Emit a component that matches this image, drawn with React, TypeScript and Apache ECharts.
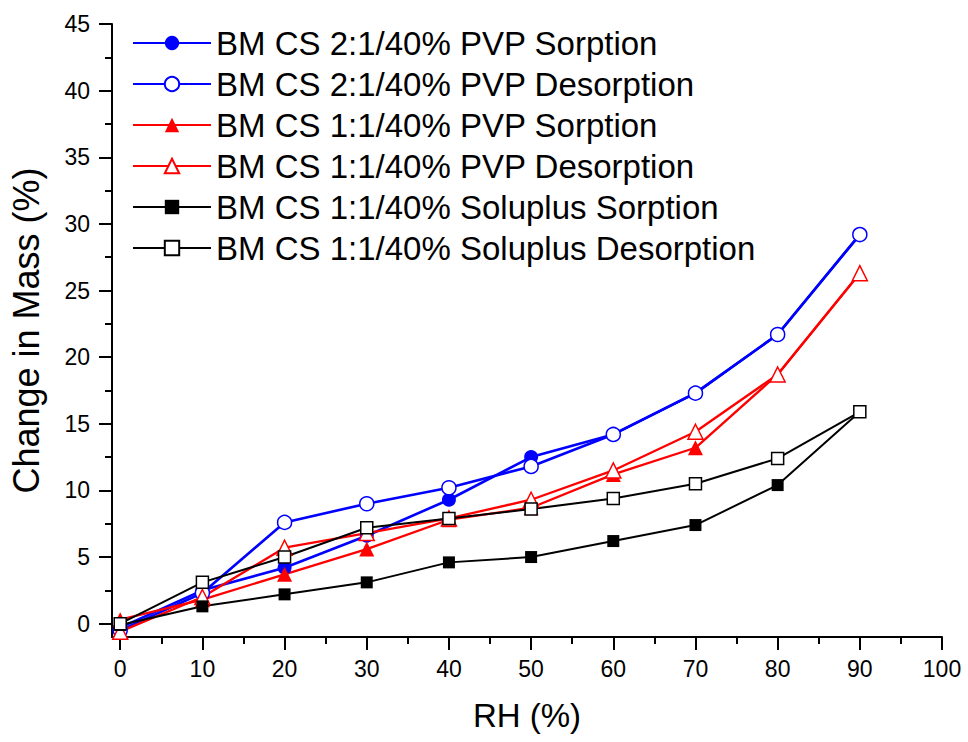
import React, { useEffect, useRef } from "react";
import * as echarts from "echarts";

const rh = [0, 10, 20, 30, 40, 50, 60, 70, 80, 90];
const bm21PvpSorption = [-0.3, 2.5, 4.2, 6.6, 9.3, 12.5, 14.2, 17.3, 21.7, 29.2];
const bm21PvpDesorption = [-0.5, 2.3, 7.6, 9.0, 10.2, 11.8, 14.2, 17.3, 21.7, 29.2];
const bm11PvpSorption = [0.3, 1.8, 3.7, 5.6, 7.8, 8.7, 11.2, 13.2, 18.7, 26.3];
const bm11PvpDesorption = [-0.6, 2.0, 5.7, 6.8, 7.9, 9.3, 11.5, 14.4, 18.7, 26.3];
const bm11SolSorption = [-0.1, 1.3, 2.2, 3.1, 4.6, 5.0, 6.2, 7.4, 10.4, 15.9];
const bm11SolDesorption = [0.0, 3.1, 5.0, 7.2, 7.9, 8.6, 9.4, 10.5, 12.4, 15.9];

const seriesNames = [
  "BM CS 2:1/40% PVP Sorption",
  "BM CS 2:1/40% PVP Desorption",
  "BM CS 1:1/40% PVP Sorption",
  "BM CS 1:1/40% PVP Desorption",
  "BM CS 1:1/40% Soluplus Sorption",
  "BM CS 1:1/40% Soluplus Desorption",
];

const xMajorTicks = [0, 10, 20, 30, 40, 50, 60, 70, 80, 90, 100];
const xMinorTicks = [5, 15, 25, 35, 45, 55, 65, 75, 85, 95];
const yMajorTicks = [0, 5, 10, 15, 20, 25, 30, 35, 40, 45];
const yMinorTicks = [2.5, 7.5, 12.5, 17.5, 22.5, 27.5, 32.5, 37.5, 42.5];

const FONT = "'Liberation Sans', Arial, Helvetica, sans-serif";
const BLUE = "#0000ff";
const RED = "#ff0000";
const BLACK = "#000000";

function pairs(vals: number[]) {
  return rh.map((x, i) => [x, vals[i]]);
}

function makeSeries(
  name: string,
  vals: number[],
  color: string,
  symbol: string,
  size: number,
  filled: boolean,
  lw: number
) {
  return {
    name,
    type: "line",
    data: pairs(vals),
    symbol,
    symbolSize: size,
    showAllSymbol: true,
    clip: false,
    lineStyle: { color, width: lw },
    itemStyle: filled
      ? { color, borderWidth: 0 }
      : { color: "#ffffff", borderColor: color, borderWidth: 1.5 },
    emphasis: { disabled: true },
  };
}

export default function App() {
  const ref = useRef<HTMLDivElement>(null);
  useEffect(() => {
    if (!ref.current) return;
    const chart = echarts.init(ref.current, undefined, { renderer: "svg" });
    const axisLineStyle = { color: BLACK, width: 2 };
    chart.setOption({
      animation: false,
      backgroundColor: "#ffffff",
      grid: { left: 111, right: 26, top: 24, bottom: 105, containLabel: false },
      legend: {
        orient: "vertical",
        left: 132,
        top: 26,
        padding: 0,
        itemWidth: 78,
        itemHeight: 18,
        itemGap: 7,
        data: seriesNames,
        textStyle: { fontFamily: FONT, fontSize: 33, color: "#000", lineHeight: 34 },
        selectedMode: false,
      },
      xAxis: [
        {
          type: "value",
          min: -1,
          max: 100,
          position: "bottom",
          name: "RH (%)",
          nameLocation: "middle",
          nameGap: 62,
          nameTextStyle: { fontFamily: FONT, fontSize: 33, color: "#000" },
          axisLine: { show: true, onZero: false, lineStyle: axisLineStyle },
          axisTick: { show: true, customValues: xMajorTicks, length: 13, lineStyle: { color: BLACK, width: 2 } },
          axisLabel: {
            show: true,
            customValues: xMajorTicks,
            fontFamily: FONT,
            fontSize: 23,
            color: "#000",
            margin: 20,
          },
          splitLine: { show: false },
        },
        {
          type: "value",
          min: -1,
          max: 100,
          position: "bottom",
          axisLine: { show: false, onZero: false },
          axisTick: { show: true, customValues: xMinorTicks, length: 7, lineStyle: { color: BLACK, width: 2 } },
          axisLabel: { show: false },
          splitLine: { show: false },
        },
      ],
      yAxis: [
        {
          type: "value",
          min: -1,
          max: 45,
          position: "left",
          name: "Change in Mass (%)",
          nameLocation: "middle",
          nameGap: 68,
          nameRotate: 90,
          nameTextStyle: { fontFamily: FONT, fontSize: 36, color: "#000" },
          axisLine: { show: true, onZero: false, lineStyle: axisLineStyle },
          axisTick: { show: true, customValues: yMajorTicks, length: 13, lineStyle: { color: BLACK, width: 2 } },
          axisLabel: {
            show: true,
            customValues: yMajorTicks,
            fontFamily: FONT,
            fontSize: 23,
            color: "#000",
            margin: 22,
          },
          splitLine: { show: false },
        },
        {
          type: "value",
          min: -1,
          max: 45,
          position: "left",
          axisLine: { show: false, onZero: false },
          axisTick: { show: true, customValues: yMinorTicks, length: 7, lineStyle: { color: BLACK, width: 2 } },
          axisLabel: { show: false },
          splitLine: { show: false },
        },
      ],
      series: [
        makeSeries(seriesNames[0], bm21PvpSorption, BLUE, "circle", 14, true, 2.6),
        makeSeries(seriesNames[1], bm21PvpDesorption, BLUE, "circle", 14, false, 2.6),
        makeSeries(seriesNames[2], bm11PvpSorption, RED, "triangle", 15, true, 2.3),
        makeSeries(seriesNames[3], bm11PvpDesorption, RED, "triangle", 15, false, 2.3),
        makeSeries(seriesNames[4], bm11SolSorption, BLACK, "rect", 12, true, 2),
        makeSeries(seriesNames[5], bm11SolDesorption, BLACK, "rect", 12, false, 2),
      ],
    });
    return () => chart.dispose();
  }, []);
  return (
    <div
      ref={ref}
      style={{ position: "fixed", left: 0, top: 0, width: 968, height: 742, background: "#fff" }}
    />
  );
}
